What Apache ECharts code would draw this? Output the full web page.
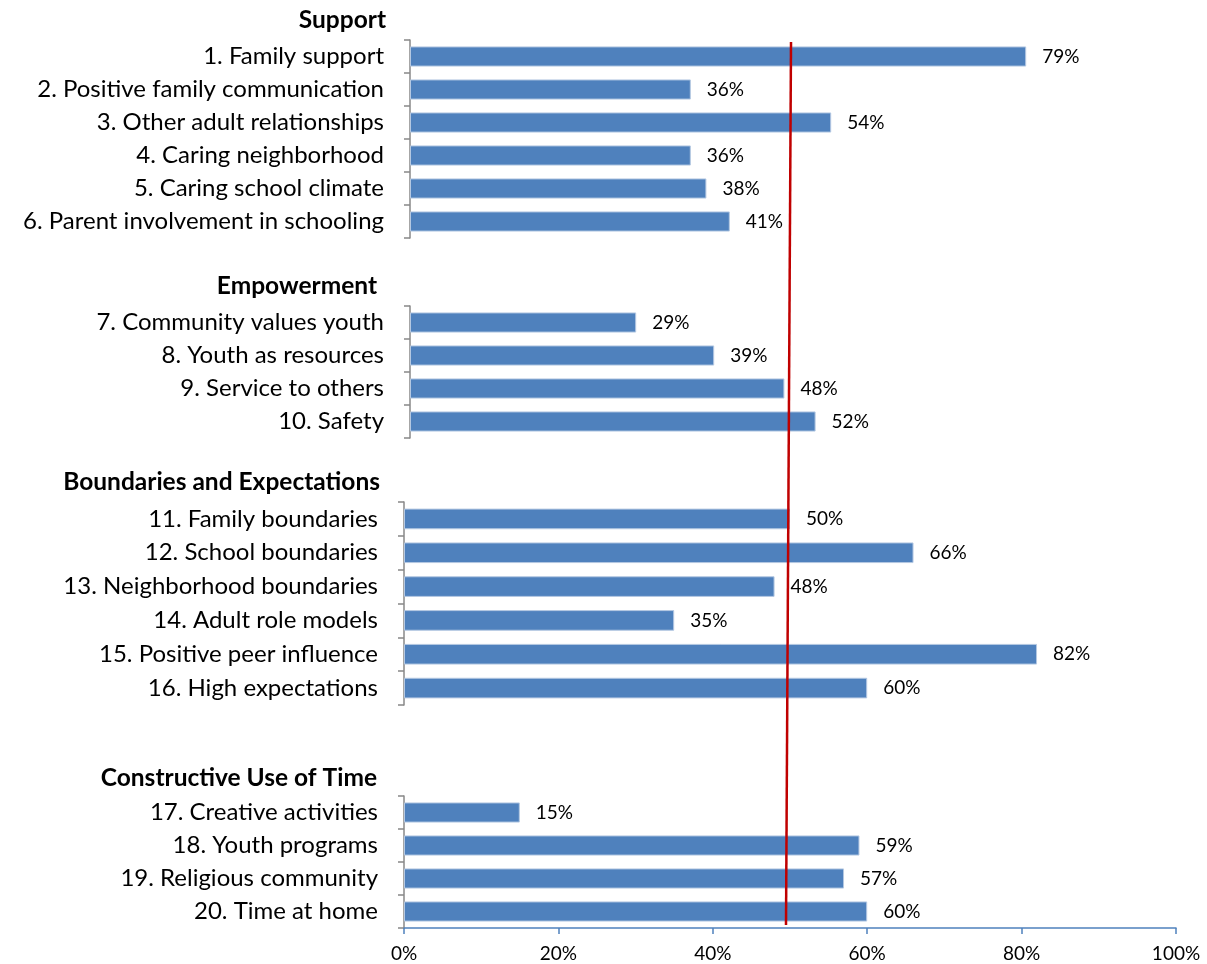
<!DOCTYPE html>
<html>
<head>
<meta charset="utf-8">
<style>
  html, body { margin: 0; padding: 0; background: #ffffff; }
  #chart { width: 1207px; height: 964px; }
</style>
<script src="https://cdn.jsdelivr.net/npm/echarts@6/dist/echarts.min.js"></script>
</head>
<body>
<div id="chart"></div>
<script>
// Developmental assets: share of youth reporting each asset, grouped by category
const groupTitles = ['Support', 'Empowerment', 'Boundaries and Expectations', 'Constructive Use of Time'];

const supportItems = ['1. Family support', '2. Positive family communication', '3. Other adult relationships',
  '4. Caring neighborhood', '5. Caring school climate', '6. Parent involvement in schooling'];
const supportValues = [79, 36, 54, 36, 38, 41];

const empowermentItems = ['7. Community values youth', '8. Youth as resources', '9. Service to others', '10. Safety'];
const empowermentValues = [29, 39, 48, 52];

const boundaryItems = ['11. Family boundaries', '12. School boundaries', '13. Neighborhood boundaries',
  '14. Adult role models', '15. Positive peer influence', '16. High expectations'];
const boundaryValues = [50, 66, 48, 35, 82, 60];

const timeItems = ['17. Creative activities', '18. Youth programs', '19. Religious community', '20. Time at home'];
const timeValues = [15, 59, 57, 60];

const xTicks = [0, 20, 40, 60, 80, 100];

const FONT = 'Lato, "Open Sans", sans-serif';
const BAR = '#4F81BD';
const AXIS_GREY = '#888888';

const groups = [
  { items: supportItems, values: supportValues, grid: { left: 410, width: 780, top: 40, height: 198 }, titleX: 386, titleY: 20 },
  { items: empowermentItems, values: empowermentValues, grid: { left: 410, width: 780, top: 306, height: 132 }, titleX: 377, titleY: 286 },
  { items: boundaryItems, values: boundaryValues, grid: { left: 404, width: 772, top: 502, height: 203 }, titleX: 380, titleY: 482 },
  { items: timeItems, values: timeValues, grid: { left: 404, width: 772, top: 796, height: 132 }, titleX: 377, titleY: 778 }
];

const grids = [], xAxes = [], yAxes = [], series = [], titleTexts = [];

groups.forEach((g, i) => {
  const last = i === groups.length - 1;
  grids.push(Object.assign({ containLabel: false }, g.grid));
  // group heading, right-aligned just left of the category axis
  titleTexts.push({
    type: 'text', x: g.titleX, y: g.titleY,
    style: {
      text: groupTitles[i], align: 'right', verticalAlign: 'middle',
      fontFamily: FONT, fontSize: 24.5, fontWeight: 'bold', fill: '#000'
    }
  });
  xAxes.push({
    type: 'value', gridIndex: i, min: 0, max: 100, interval: 20,
    show: last,
    splitLine: { show: false },
    axisLine: { show: last, lineStyle: { color: BAR, width: 1.5 } },
    axisTick: { show: last, length: 6, lineStyle: { color: BAR, width: 1.5 } },
    axisLabel: {
      show: last, margin: 16, fontFamily: FONT, fontSize: 19, color: '#000',
      formatter: v => xTicks.includes(v) ? v + '%' : ''
    }
  });
  yAxes.push({
    type: 'category', gridIndex: i, data: g.items, inverse: true,
    axisLine: { show: true, lineStyle: { color: AXIS_GREY, width: 1.5 } },
    axisTick: { show: true, length: 6, alignWithLabel: false, lineStyle: { color: AXIS_GREY, width: 1.5 } },
    axisLabel: { margin: 26, fontFamily: FONT, fontSize: 24, color: '#000' }
  });
  series.push({
    type: 'bar', xAxisIndex: i, yAxisIndex: i, data: g.values,
    barWidth: '61%',
    itemStyle: { color: BAR, borderColor: '#b4c8e2', borderWidth: 1 },
    label: {
      show: true, position: 'right', distance: 16,
      fontFamily: FONT, fontSize: 19, color: '#000',
      formatter: p => p.value + '%'
    },
    animation: false
  });
});

const chart = echarts.init(document.getElementById('chart'), null, { renderer: 'canvas' });
chart.setOption({
  backgroundColor: '#ffffff',
  animation: false,
  grid: grids,
  xAxis: xAxes,
  yAxis: yAxes,
  series: series,
  graphic: titleTexts.concat([{
    // hand-placed benchmark marker across all groups
    type: 'line', z: 100,
    shape: { x1: 791, y1: 42, x2: 786, y2: 925 },
    style: { stroke: '#C00000', lineWidth: 2.5 }
  }])
});
</script>
</body>
</html>
